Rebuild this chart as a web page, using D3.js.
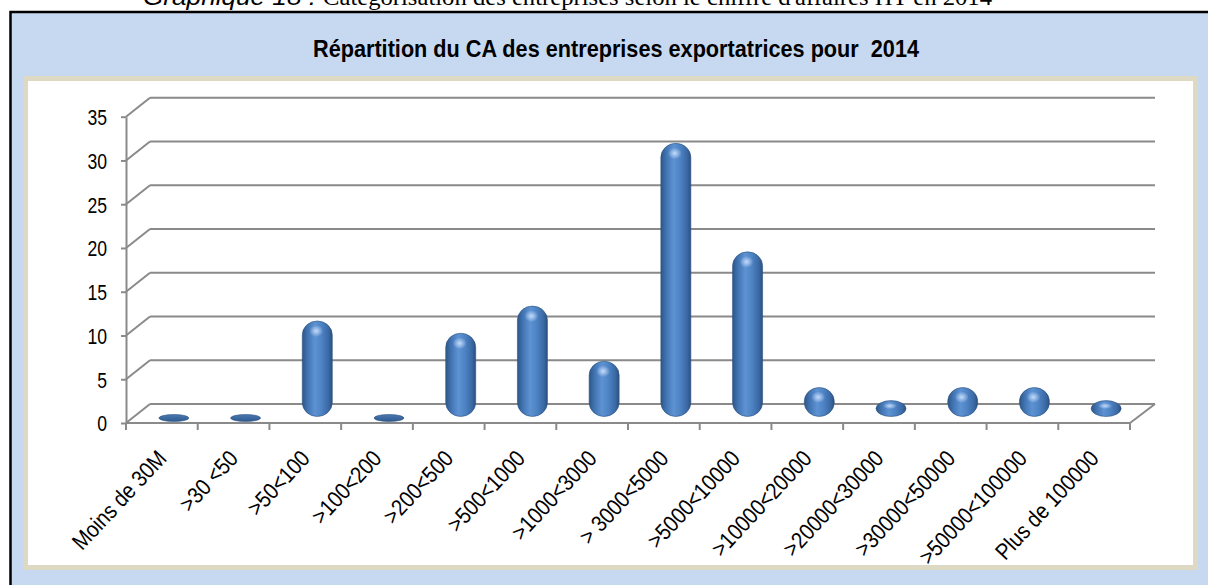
<!DOCTYPE html>
<html lang="fr">
<head>
<meta charset="utf-8">
<title>Répartition du CA</title>
<script src="https://d3js.org/d3.v7.min.js"></script>
<style>
  body { margin: 0; background: #fff; }
  svg { display: block; }
  .axis-lbl { font-family: "Liberation Sans", Arial, sans-serif; fill: #000; }
</style>
</head>
<body>
<svg id="chart" width="1208" height="585"></svg>
<script>
// data ******************************
const categories = ["Moins de 30M", ">30 <50", ">50<100", ">100<200", ">200<500", ">500<1000",
  ">1000<3000", "> 3000<5000", ">5000<10000", ">10000<20000", ">20000<30000",
  ">30000<50000", ">50000<100000", "Plus de 100000"];
const values = [0, 0, 10, 0, 8.6, 11.7, 5.4, 30.3, 17.9, 2.4, 0.9, 2.4, 2.4, 0.9];
const yTicks = [0, 5, 10, 15, 20, 25, 30, 35];
const chartTitle = "Répartition du CA des entreprises exportatrices pour  2014";
const captionA = "Graphique 18 :";
const captionB = "Catégorisation des entreprises selon le chiffre d'affaires HT en 2014";

// layout ******************************
const svg = d3.select("#chart");
const depth = {dx: 24, dy: -19};   // back wall offset
const squash = 0.8;                // the original is narrowed horizontally

const x = d3.scaleBand().domain(categories).range([126, 1130]);
const y = d3.scaleLinear().domain([0, 35]).range([423, 116.7]);

// gradients
const defs = svg.append("defs");
const g1 = defs.append("linearGradient").attr("id", "pill").attr("x1", 0).attr("x2", 1).attr("y1", 0).attr("y2", 0);
[["0%", "#2c5688"], ["18%", "#4274b2"], ["42%", "#5d92d3"], ["65%", "#4d82c3"], ["88%", "#3a68a3"], ["100%", "#2a5080"]]
  .forEach(s => g1.append("stop").attr("offset", s[0]).attr("stop-color", s[1]));
const g2 = defs.append("radialGradient").attr("id", "shine");
g2.append("stop").attr("offset", "0%").attr("stop-color", "#cfe3ff").attr("stop-opacity", 0.9);
g2.append("stop").attr("offset", "100%").attr("stop-color", "#cfe3ff").attr("stop-opacity", 0);
const g3 = defs.append("linearGradient").attr("id", "flat").attr("x1", 0).attr("x2", 0).attr("y1", 0).attr("y2", 1);
g3.append("stop").attr("offset", "0%").attr("stop-color", "#4a78b0");
g3.append("stop").attr("offset", "100%").attr("stop-color", "#2e5a8f");

// caption above the frame (cut by the page)
svg.append("text")
  .attr("x", 143).attr("y", 5)
  .attr("textLength", 173).attr("lengthAdjust", "spacingAndGlyphs")
  .style("font", "italic 23px 'Liberation Sans', Arial, sans-serif")
  .text(captionA);
svg.append("text")
  .attr("x", 323).attr("y", 5)
  .attr("textLength", 669).attr("lengthAdjust", "spacingAndGlyphs")
  .style("font", "23px 'Liberation Serif', 'Times New Roman', serif")
  .text(captionB);

// outer frame
svg.append("rect")
  .attr("x", 10.5).attr("y", 12).attr("width", 1210).attr("height", 600)
  .attr("fill", "#c6d9f0").attr("stroke", "#000").attr("stroke-width", 2.5);

svg.append("text")
  .attr("x", 313).attr("y", 57)
  .attr("textLength", 606).attr("lengthAdjust", "spacingAndGlyphs")
  .style("font", "bold 24px 'Liberation Sans', Arial, sans-serif")
  .style("white-space", "pre")
  .text(chartTitle);

// plot area
svg.append("rect")
  .attr("x", 25.5).attr("y", 78.5).attr("width", 1170).attr("height", 489)
  .attr("fill", "#fff").attr("stroke", "#ddd9c3").attr("stroke-width", 5);

const grid = svg.append("g")
  .attr("stroke", "#8a8a8a").attr("stroke-width", 2).attr("fill", "none");

// back wall grid + left wall diagonals
grid.selectAll("line.back").data(yTicks).join("line")
  .attr("class", "back")
  .attr("x1", x.range()[0] + depth.dx).attr("x2", x.range()[1] + depth.dx + 1)
  .attr("y1", d => y(d) + depth.dy).attr("y2", d => y(d) + depth.dy);
grid.selectAll("line.side").data(yTicks).join("line")
  .attr("class", "side")
  .attr("x1", x.range()[0]).attr("x2", x.range()[0] + depth.dx)
  .attr("y1", d => y(d)).attr("y2", d => y(d) + depth.dy);

// floor right edge
grid.append("line")
  .attr("x1", x.range()[1]).attr("y1", y(0))
  .attr("x2", x.range()[1] + depth.dx + 1).attr("y2", y(0) + depth.dy);

// y axis
const yAxis = svg.append("g")
  .attr("transform", `translate(${x.range()[0]},0)`)
  .call(d3.axisLeft(y).tickValues(yTicks).tickSize(5).tickSizeOuter(0));
yAxis.select(".domain").attr("stroke", "#8a8a8a").attr("stroke-width", 2);
yAxis.selectAll(".tick line").attr("stroke", "#8a8a8a").attr("stroke-width", 2);
yAxis.selectAll(".tick text")
  .attr("class", "axis-lbl")
  .attr("x", -19 / squash).attr("dy", "0.36em")
  .attr("transform", `scale(${squash},1)`)
  .style("font-size", "22px");

// x axis (front edge of the floor, ticks on category boundaries)
const bounds = categories.map(c => x(c)).concat([x.range()[1]]);
svg.append("line")
  .attr("x1", x.range()[0]).attr("x2", x.range()[1])
  .attr("y1", y(0)).attr("y2", y(0))
  .attr("stroke", "#8a8a8a").attr("stroke-width", 2);
svg.append("g").selectAll("line").data(bounds).join("line")
  .attr("x1", d => d).attr("x2", d => d)
  .attr("y1", y(0)).attr("y2", y(0) + 7)
  .attr("stroke", "#8a8a8a").attr("stroke-width", 2);

svg.append("g").selectAll("text").data(categories).join("text")
  .attr("class", "axis-lbl")
  .attr("transform", d => `translate(${x(d) + x.bandwidth() / 2},454) rotate(-47) scale(0.87,1)`)
  .attr("text-anchor", "end")
  .attr("dy", "0.35em")
  .style("font-size", "23px")
  .text(d => d);

// bars: rounded cylinders standing in the middle of the floor
const barW = 30;
const mid = {dx: depth.dx / 2, dy: depth.dy / 2};
const bars = svg.append("g").selectAll("g").data(categories.map((c, i) => ({c, v: values[i]}))).join("g");

bars.each(function(d) {
  const cx = x(d.c) + x.bandwidth() / 2 + mid.dx;
  let top, bottom;
  if (d.v > 0) {
    bottom = y(0) + mid.dy + 3;
    top = y(d.v) + mid.dy - 5;
  } else {
    top = y(0) + mid.dy + 1;
    bottom = top + 7;
  }
  const h = bottom - top;
  const g = d3.select(this);
  g.append("rect")
    .attr("x", cx - barW / 2).attr("width", barW)
    .attr("y", top).attr("height", h)
    .attr("rx", barW / 2).attr("ry", Math.min(14, h / 2))
    .attr("fill", d.v > 0 ? "url(#pill)" : "url(#flat)")
    .attr("stroke", "#2b5281").attr("stroke-width", 0.6);
  if (h > 12) {
    g.append("ellipse")
      .attr("cx", cx - 1).attr("cy", top + Math.min(10, h / 3))
      .attr("rx", 7).attr("ry", Math.min(6, h / 5))
      .attr("fill", "url(#shine)");
  }
});
</script>
</body>
</html>
